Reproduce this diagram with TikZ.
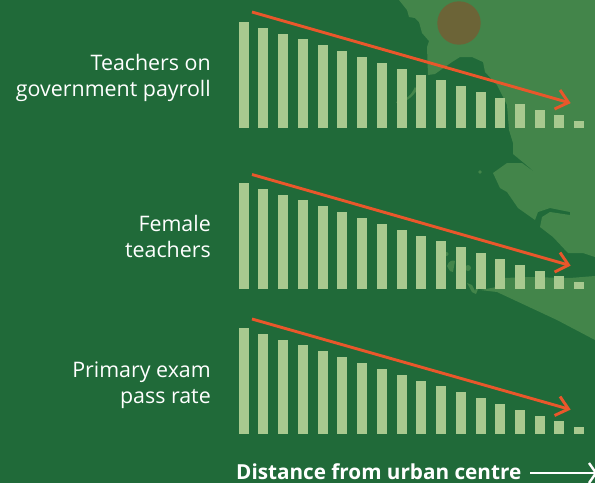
\documentclass[tikz,border=0pt]{standalone}
\usepackage{fontspec}
\setmainfont{Open Sans}
\definecolor{bgg}{HTML}{206A39}
\definecolor{land}{HTML}{43854A}
\definecolor{barc}{HTML}{A8C98F}
\definecolor{arrowc}{HTML}{E9572B}
\definecolor{dotc}{HTML}{6C6437}
\tikzset{x=1pt,y=-1pt,
  landshape/.style={fill=land,draw=none},
  barshape/.style={fill=barc,draw=none},
  trend/.style={draw=arrowc,line width=2.9pt},
  label/.style={text=white,font=\fontsize{21.4}{26}\selectfont,align=right,anchor=east,inner sep=0pt}}
\newcommand{\barsrow}[2]{%
  \foreach \bx/\ty in {239/0,258/6,278/12,298/17,318/23,337/29,357/35,377/41,397/47,416/53,436/58,456/64,476/70,495/76,515/82,535/88,554/93,574/99}{
    \fill[barshape] (\bx,#1+\ty) rectangle (\bx+10,#2);
  }}
\begin{document}
\begin{tikzpicture}
\useasboundingbox (0,0) rectangle (595,483);
\fill[bgg] (0,0) rectangle (595,483);
% land, upper
\fill[landshape] (399,0) -- (407,10) -- (409,17) -- (415,18) -- (419,22) -- (422,33) -- (429,41) -- (427,47) -- (428,75) -- (435,74) -- (452,62) -- (460,57) -- (472,57) -- (483,62) -- (485,72) -- (497,85) -- (507,105) -- (509,130) -- (513,143) -- (513,154) -- (524,163) -- (537,174) -- (522,163) -- (507,163) -- (493,173) -- (500,188) -- (507,192) -- (518,208) -- (535,220) -- (538,212) -- (550,208) -- (570,212) -- (570,215) -- (550,212) -- (542,217) -- (540,227) -- (553,237) -- (568,253) -- (583,253) -- (595,257) -- (595,0) -- cycle;
% land, lower
\fill[landshape] (595,276) -- (570,278) -- (527,277) -- (505,278) -- (497,287) -- (480,290) -- (497,292) -- (557,320) -- (595,340) -- cycle;
% islets
\fill[landshape] (396,102) .. controls (405,99) and (410,98) .. (415,87) -- (417,90) .. controls (412,98) and (405,102) .. (398,104) -- cycle;
\fill[landshape] (480,172) circle (1.8);
\fill[landshape] (447,266) .. controls (449,260) and (453,260) .. (455,261) -- (453,272) -- (450,271) -- cycle;
\fill[landshape] (468,268) circle (3);
\fill[landshape] (446.5,254) circle (2);
\fill[landshape] (467,283) -- (472,285) -- (475,291) -- (478,283) -- (480,284) -- (476,294) -- (472,292) -- cycle;
\fill[dotc] (459,23) circle (21.7);
\barsrow{22}{128}
\barsrow{183}{289}
\barsrow{328}{434}
\coordinate (a1s) at (252,12); \coordinate (a1e) at (568.5,102.5);
\coordinate (a1u) at (560,90); \coordinate (a1d) at (554.5,109);
\coordinate (a2s) at (252,174.5); \coordinate (a2e) at (568.5,265);
\coordinate (a2u) at (560,252.5); \coordinate (a2d) at (554.5,272);
\coordinate (a3s) at (252,319); \coordinate (a3e) at (568.5,409);
\coordinate (a3u) at (560,396.5); \coordinate (a3d) at (554.5,415.5);
\draw[trend] (a1s) -- (a1e); \draw[trend] (a1u) -- (a1e) -- (a1d);
\draw[trend] (a2s) -- (a2e); \draw[trend] (a2u) -- (a2e) -- (a2d);
\draw[trend] (a3s) -- (a3e); \draw[trend] (a3u) -- (a3e) -- (a3d);
\node[label] (t1) at (211,78) {Teachers on\\government payroll};
\node[label] (t2) at (211,236.5) {Female\\teachers};
\node[label] (t3) at (211,385) {Primary exam\\pass rate};
\node[text=white,font=\fontsize{20.7}{24}\selectfont\bfseries,anchor=base west,inner sep=0pt] (d) at (236,479) {Distance from urban centre};
\coordinate (de) at (596,473);
\coordinate (du) at (589,463); \coordinate (dd) at (589,483);
\draw[white,line width=2.4pt] (530,473) -- (de);
\draw[white,line width=2.4pt] (du) -- (de) -- (dd);
\end{tikzpicture}
\end{document}
